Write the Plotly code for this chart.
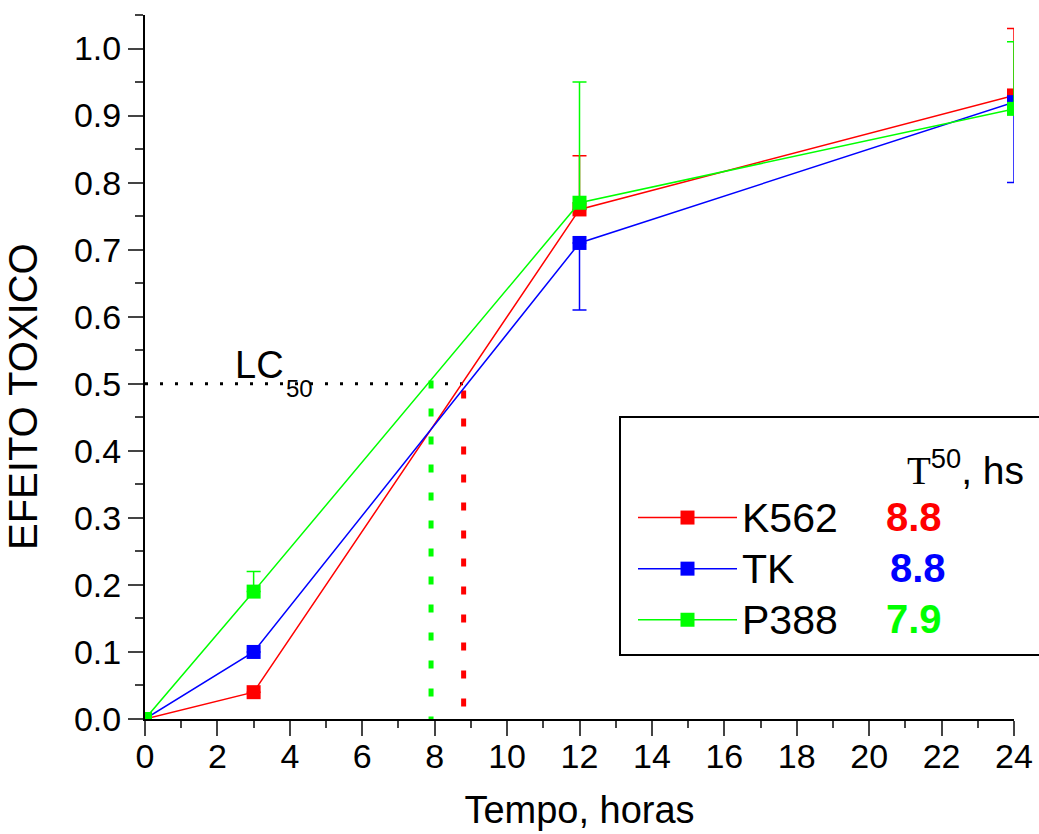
import plotly.graph_objects as go

# ---- data ----
hours = [0, 3, 12, 24]
series_names = ["K562", "TK", "P388"]
k562 = [0.0, 0.04, 0.76, 0.93]
tk = [0.0, 0.10, 0.71, 0.92]
p388 = [0.0, 0.19, 0.77, 0.91]
k562_err_plus = [0, 0, 0.08, 0.10]
k562_err_minus = [0, 0, 0, 0]
tk_err_plus = [0, 0, 0, 0]
tk_err_minus = [0, 0, 0.10, 0.12]
p388_err_plus = [0, 0.03, 0.18, 0.10]
p388_err_minus = [0, 0, 0, 0]
t50_values = [8.8, 8.8, 7.9]
t50_labels = ["8.8", "8.8", "7.9"]
lc_level = 0.5
colors = ["#ff0000", "#0000ff", "#00ff00"]

FONT = "Liberation Sans, Arial, sans-serif"
SERIF = "'Liberation Serif', 'Times New Roman', serif"

fig = go.Figure()

# reference dotted lines
fig.add_trace(go.Scatter(x=[0, t50_values[0]], y=[lc_level, lc_level], mode="lines",
                         line=dict(color="black", width=3, dash="3px,12px"),
                         showlegend=False, hoverinfo="skip"))
fig.add_trace(go.Scatter(x=[t50_values[0], t50_values[0]], y=[lc_level - 0.01, 0], mode="lines",
                         line=dict(color=colors[0], width=5, dash="8px,20px"),
                         showlegend=False, hoverinfo="skip"))
fig.add_trace(go.Scatter(x=[t50_values[2], t50_values[2]], y=[lc_level + 0.005, 0], mode="lines",
                         line=dict(color=colors[2], width=5, dash="8px,20px"),
                         showlegend=False, hoverinfo="skip"))

vals = [k562, tk, p388]
eplus = [k562_err_plus, tk_err_plus, p388_err_plus]
eminus = [k562_err_minus, tk_err_minus, p388_err_minus]
for name, v, ep, em, c in zip(series_names, vals, eplus, eminus, colors):
    fig.add_trace(go.Scatter(
        x=hours, y=v, name='<span style="font-size:41px">' + name + '</span>',
        mode="lines+markers",
        line=dict(color=c, width=1.5),
        marker=dict(symbol="square", size=14, color=c),
        error_y=dict(type="data", symmetric=False, array=ep, arrayminus=em,
                     color=c, thickness=1.5, width=7),
    ))

fig.update_layout(
    width=1039, height=834,
    margin=dict(l=145, r=25, t=15, b=115, autoexpand=False),
    paper_bgcolor="white", plot_bgcolor="white",
    font=dict(family=FONT, size=34, color="black"),
    showlegend=True,
    legend=dict(x=(633 - 145) / 869, y=(719 - 487) / 704, xanchor="left", yanchor="top",
                font=dict(size=37, family=FONT), bgcolor="rgba(0,0,0,0)",
                itemwidth=99, tracegroupgap=0),
)

fig.update_xaxes(range=[0, 24], tickmode="linear", tick0=0, dtick=2, automargin=False,
                 ticks="outside", ticklen=15, tickwidth=2, showline=True, linewidth=2,
                 linecolor="black", showgrid=False, zeroline=False,
                 minor=dict(dtick=1, ticks="outside", ticklen=7, tickwidth=2),
                 tickfont=dict(size=34), ticklabelstandoff=-9,
                 title=dict(text="Tempo, horas", font=dict(size=38), standoff=23))
fig.update_yaxes(range=[0, 1.05], tickmode="linear", tick0=0, dtick=0.1, tickformat=".1f",
                 automargin=False,
                 ticks="outside", ticklen=15, tickwidth=2, showline=True, linewidth=2,
                 linecolor="black", showgrid=False, zeroline=False,
                 minor=dict(dtick=0.05, ticks="outside", ticklen=8, tickwidth=2),
                 tickfont=dict(size=34))

PXX = 869 / 24.0
PXY = 704 / 1.05


def dx(px):
    return (px - 145) / PXX


def dy(py):
    return (719 - py) / PXY


# y axis title (placed as annotation to match vertical offset)
fig.add_annotation(x=0, y=dy(397), xref="x", yref="y", text="EFEITO TOXICO",
                   textangle=-90, showarrow=False, xanchor="right", yanchor="middle",
                   xshift=-98, font=dict(size=40, family=FONT))

# LC50 label
fig.add_annotation(x=dx(233), y=dy(365), xref="x", yref="y", text="LC",
                   showarrow=False, xanchor="left", yanchor="middle",
                   font=dict(size=38, family=FONT))
fig.add_annotation(x=dx(284), y=dy(388), xref="x", yref="y", text="50",
                   showarrow=False, xanchor="left", yanchor="middle",
                   font=dict(size=24, family=FONT))

# legend box
fig.add_shape(type="rect", xref="paper", yref="paper",
              x0=(620 - 145) / 869, x1=1.06, y0=(719 - 655) / 704, y1=(719 - 417) / 704,
              line=dict(color="black", width=2))

# legend title
fig.add_annotation(xref="x", yref="y", x=dx(905), y=dy(467),
                   xanchor="left", yanchor="middle", showarrow=False,
                   text="<span style=\"font-family:" + SERIF + "\">T</span><sup>50</sup>, hs",
                   font=dict(size=39, family=FONT))

# T50 values
row_y = [517, 568, 619]
row_x = [884, 888, 884]
for lab, c, ry, rx in zip(t50_labels, colors, row_y, row_x):
    fig.add_annotation(xref="x", yref="y", x=dx(rx), y=dy(ry),
                       xanchor="left", yanchor="middle", showarrow=False,
                       text="<b>" + lab + "</b>", font=dict(size=40, color=c, family=FONT))

fig.write_html("out.html")
